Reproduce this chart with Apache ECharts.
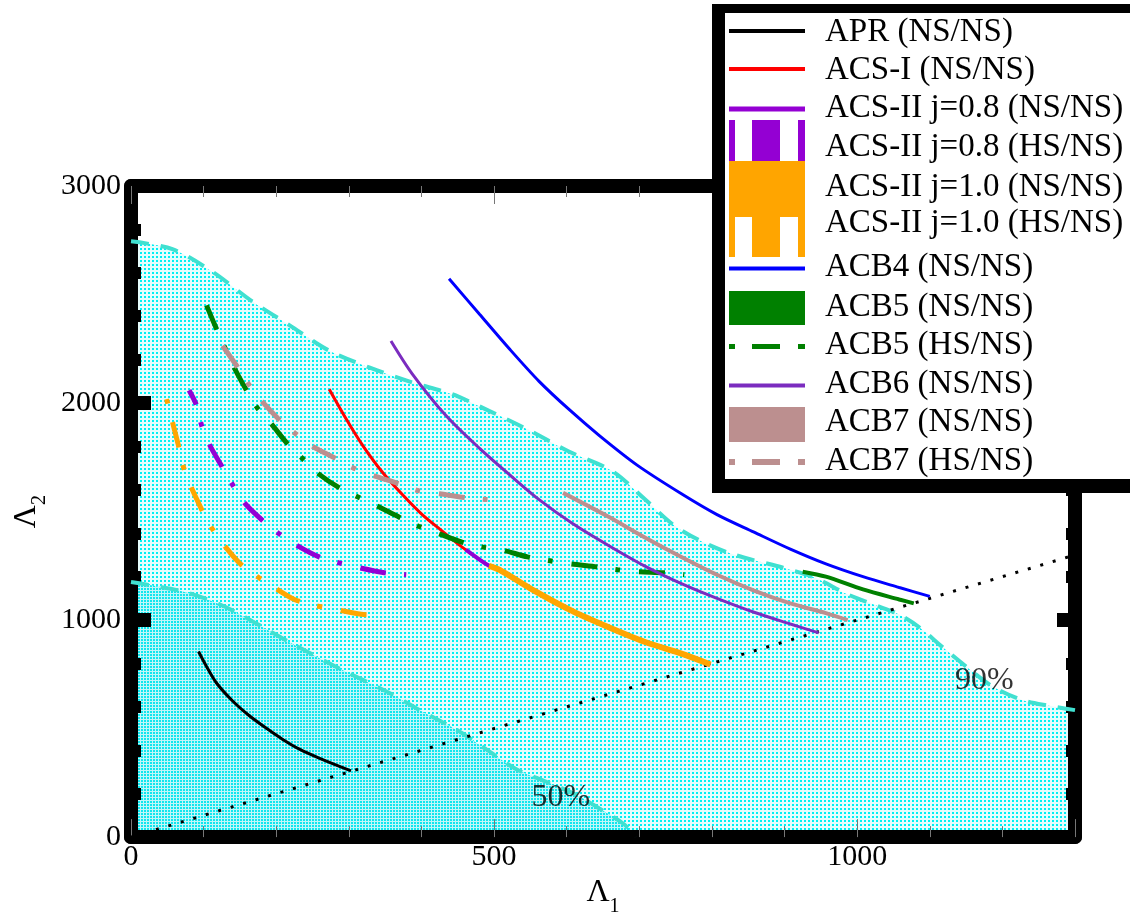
<!DOCTYPE html>
<html><head><meta charset="utf-8">
<script src="https://cdn.jsdelivr.net/npm/echarts@6/dist/echarts.min.js"></script>
<style>html,body{margin:0;padding:0;background:#fff}#c{width:1130px;height:922px}</style>
</head><body><div id="c"></div>
<script>
// ---------------- data ----------------
const xTickLabels = [0, 500, 1000];
const yTickLabels = [0, 1000, 2000, 3000];

const region90 = [[0,2745],[57,2709],[112,2605],[167,2468],[218,2359],[273,2241],[328,2164],[387,2095],[442,2041],[493,1964],[544,1882],[603,1777],[663,1686],[707,1559],[748,1436],[788,1359],[832,1300],[898,1241],[942,1195],[987,1118],[1033,1059],[1057,1027],[1085,968],[1117,877],[1150,786],[1186,695],[1227,632],[1264,605],[1300,585]];
const region50 = [[0,1175],[71,1132],[122,1073],[167,995],[222,891],[287,777],[356,664],[397,586],[448,495],[489,405],[530,314],[572,255],[613,195],[645,132],[679,59],[695,0]];
const equalLine = [[0,0],[1300,1300]];

const aprNS = [[93,855],[104,786],[118,709],[140,627],[163,559],[187,500],[209,450],[232,405],[259,364],[303,305]];
const acs1NS = [[273,2064],[297,1923],[319,1805],[346,1682],[374,1577],[401,1486],[429,1409],[456,1336],[493,1250],[507,1232],[557,1132],[608,1041],[657,968],[707,900],[758,845],[798,795]];
const acs2j08NS = [[461,1325],[493,1250],[507,1232],[557,1132],[608,1041],[657,968],[707,900],[758,845],[798,795]];
const acs2j08HS = [[80,2059],[90,1991],[97,1900],[108,1809],[125,1709],[140,1623],[156,1541],[181,1459],[203,1400],[228,1345],[259,1291],[286,1264],[314,1241],[349,1218],[379,1209]];
const acs2j10NS = [[493,1250],[507,1232],[557,1132],[608,1041],[657,968],[707,900],[758,845],[798,795]];
const acs2j10HS = [[49,2018],[56,1927],[65,1809],[71,1718],[81,1627],[96,1518],[108,1441],[125,1359],[149,1264],[170,1209],[195,1155],[225,1095],[252,1068],[280,1050],[317,1027],[346,1023]];
const acb4NS = [[438,2573],[480,2409],[521,2250],[562,2100],[604,1968],[645,1850],[697,1714],[758,1582],[807,1486],[858,1405],[908,1327],[957,1259],[1008,1200],[1058,1150],[1100,1109]];
const acb5NS = [[925,1223],[957,1200],[1008,1141],[1058,1095],[1078,1077]];
const acb5HS = [[104,2450],[119,2332],[142,2164],[159,2059],[174,1977],[193,1905],[215,1814],[236,1745],[257,1677],[287,1609],[312,1568],[338,1527],[370,1473],[396,1432],[422,1400],[456,1359],[485,1336],[511,1323],[546,1291],[577,1273],[605,1259],[642,1245],[670,1232],[697,1223],[734,1218],[762,1209]];
const acb6NS = [[358,2286],[387,2136],[434,1941],[480,1791],[525,1659],[562,1555],[608,1445],[657,1345],[707,1250],[758,1168],[807,1100],[858,1036],[908,982],[947,941]];
const acb7NS = [[595,1586],[657,1477],[707,1382],[758,1291],[807,1209],[858,1136],[908,1077],[957,1032],[987,1000]];
const acb7HS = [[126,2264],[149,2155],[164,2077],[181,2005],[207,1914],[228,1855],[250,1800],[284,1741],[310,1695],[335,1664],[370,1627],[397,1595],[425,1582],[462,1564],[491,1555]];

const regionLabels = ['90%', '50%'];
const regionLabelPos = [[1175,719],[592,183]];

// ---------------- styles ----------------
const FONT = '"Liberation Serif","Times New Roman",serif';
const DASHDOT = [26, 18, 5, 19];

function pattern(w, h, bg, fg, rects) {
  const c = document.createElement('canvas');
  c.width = w; c.height = h;
  const ctx = c.getContext('2d');
  ctx.fillStyle = bg; ctx.fillRect(0, 0, w, h);
  ctx.fillStyle = fg;
  rects.forEach(r => ctx.fillRect(r[0], r[1], r[2], r[3]));
  return c;
}
const pat90 = pattern(4, 4, '#e6fdfd', '#00f0f4', [[0,0,2,2]]);
const pat50 = pattern(3, 3, '#c0f6f8', '#10e6ee', [[0,0,2,2]]);

const curves = [
  {name:'APR (NS/NS)', data:aprNS, color:'#000000', width:3, type:'solid'},
  {name:'ACS-I (NS/NS)', data:acs1NS, color:'#ff0000', width:3, type:'solid'},
  {name:'ACS-II j=0.8 (NS/NS)', data:acs2j08NS, color:'#9400d3', width:4, type:'solid'},
  {name:'ACS-II j=0.8 (HS/NS)', data:acs2j08HS, color:'#9400d3', width:5, type:DASHDOT, offset:10},
  {name:'ACS-II j=1.0 (NS/NS)', data:acs2j10NS, color:'#ffa500', width:6, type:'solid'},
  {name:'ACS-II j=1.0 (HS/NS)', data:acs2j10HS, color:'#ffa500', width:5, type:DASHDOT, offset:44},
  {name:'ACB4 (NS/NS)', data:acb4NS, color:'#0000ff', width:3, type:'solid'},
  {name:'ACB5 (NS/NS)', data:acb5NS, color:'#008000', width:4, type:'solid'},
  {name:'ACB5 (HS/NS)', data:acb5HS, color:'#008000', width:5, type:DASHDOT, offset:0},
  {name:'ACB6 (NS/NS)', data:acb6NS, color:'#7b2cbf', width:3, type:'solid'},
  {name:'ACB7 (NS/NS)', data:acb7NS, color:'#bc8f8f', width:4, type:'solid'},
  {name:'ACB7 (HS/NS)', data:acb7HS, color:'#bc8f8f', width:5, type:DASHDOT, offset:0}
];

// legend icon layouts (frame 91 x 80), row centre y
function pathOf(rects) {
  let p = 'M0 0h0.01v0.01h-0.01Z M90.99 79.99h0.01v0.01h-0.01Z';
  rects.forEach(r => { p += ` M${r[0]} ${r[1]}h${r[2]}v${r[3]}h${-r[2]}Z`; });
  return 'path://' + p;
}
function dd(y, h) { return [[0,y,6,h],[23,y,28,h],[69,y,7,h]]; }
const legendRows = [
  {c:32,  rects:[[0,37,76,4]]},
  {c:70,  rects:[[0,37,76,4]]},
  {c:108, rects:[[0,38.5,76,5]]},
  {c:147, rects:dd(13,41)},
  {c:187, rects:[[0,14,76,56]]},
  {c:223, rects:dd(34,40)},
  {c:267, rects:[[0,39.5,76,4]]},
  {c:307, rects:[[0,24,76,34]]},
  {c:345, rects:dd(39,5)},
  {c:384, rects:[[0,39.5,76,4]]},
  {c:422, rects:[[0,25,76,35]]},
  {c:461, rects:dd(38,6)}
];

const legends = curves.map((s, i) => ({
  left: 729, top: legendRows[i].c - 40, orient: 'horizontal',
  itemWidth: 91, itemHeight: 80, padding: 0, itemGap: 0,
  selectedMode: false, z: 10, symbolKeepAspect: false,
  textStyle: {fontSize: 33, fontFamily: FONT, color: '#000'},
  data: [{name: s.name, icon: pathOf(legendRows[i].rects), itemStyle: {color: s.color, borderWidth: 0}}]
}));

const series = [
  {type:'line', name:'90%', data:region90, smooth:0.3, symbol:'none', silent:true,
   lineStyle:{color:'#40e0d0', width:4, type:[18,12]},
   areaStyle:{color:{image:pat90, repeat:'repeat'}, opacity:1}},
  {type:'line', name:'50%', data:region50, smooth:0.3, symbol:'none', silent:true,
   lineStyle:{color:'#40e0d0', width:4, type:[18,12]},
   areaStyle:{color:{image:pat50, repeat:'repeat'}, opacity:1}},
  {type:'line', name:'q=1', data:equalLine, symbol:'none', silent:true,
   lineStyle:{color:'#000', width:3, type:[3,10]}}
];
curves.forEach(s => series.push({
  type:'line', name:s.name, data:s.data, smooth:0.3, symbol:'none', showSymbol:false, silent:true,
  lineStyle:{color:s.color, width:s.width, type:s.type, dashOffset:s.offset || 0},
  itemStyle:{color:s.color}
}));
series.push({
  type:'scatter', name:'labels', silent:true, symbolSize:1, z:4,
  itemStyle:{color:'rgba(0,0,0,0)'},
  data: regionLabels.map((t, i) => ({name:t, value:regionLabelPos[i]})),
  label:{show:true, position:'inside', formatter:'{b}', fontSize:32, fontFamily:FONT, color:'#000'}
});

const thinTick = {inside:true, length:18, lineStyle:{color:'#777', width:1}};
const thinMinor = {show:true, splitNumber:5, length:11, lineStyle:{color:'#777', width:1}};
const thickTick = {inside:true, length:20, lineStyle:{color:'#000', width:14}};
const thickMinor = {show:true, splitNumber:5, length:10, lineStyle:{color:'#000', width:12}};
const frameLine = {show:true, onZero:false, lineStyle:{color:'#000', width:14}};

const option = {
  animation: false,
  backgroundColor: '#fff',
  grid: {left:131, right:55, top:186, bottom:76},
  xAxis: [
    {type:'value', position:'bottom', min:0, max:1300, interval:500, z:3,
     axisLine:frameLine, axisTick:thinTick, minorTick:thinMinor, splitLine:{show:false},
     axisLabel:{margin:5, fontSize:30, fontFamily:FONT, color:'#000', showMaxLabel:false,
       formatter: v => xTickLabels.indexOf(v) >= 0 ? String(v) : ''},
     name:'{a|Λ}{b|1}', nameLocation:'middle', nameGap:30,
     nameTextStyle:{color:'#000', fontFamily:FONT, rich:{a:{fontSize:32, fontFamily:FONT, color:'#000'}, b:{fontSize:20, fontFamily:FONT, color:'#000', padding:[28,0,0,0]}}}},
    {type:'value', position:'top', min:0, max:1300, interval:500, z:3,
     axisLine:frameLine, axisTick:thinTick, minorTick:thinMinor, splitLine:{show:false}, axisLabel:{show:false}}
  ],
  yAxis: [
    {type:'value', position:'left', min:0, max:3000, interval:1000, z:3,
     axisLine:frameLine, axisTick:thickTick, minorTick:thickMinor, splitLine:{show:false},
     axisLabel:{margin:10, fontSize:30, fontFamily:FONT, color:'#000',
       formatter: v => yTickLabels.indexOf(v) >= 0 ? String(v) : ''},
     name:'{a|Λ}{b|2}', nameLocation:'middle', nameGap:80, nameRotate:90,
     nameTextStyle:{color:'#000', fontFamily:FONT, rich:{a:{fontSize:32, fontFamily:FONT, color:'#000'}, b:{fontSize:20, fontFamily:FONT, color:'#000', padding:[28,0,0,0]}}}},
    {type:'value', position:'right', min:0, max:3000, interval:1000, z:3,
     axisLine:frameLine, axisTick:{inside:true, length:18, lineStyle:{color:'#000', width:14}},
     minorTick:{show:true, splitNumber:5, length:9, lineStyle:{color:'#000', width:12}},
     splitLine:{show:false}, axisLabel:{show:false}}
  ],
  legend: legends,
  graphic: {elements: [
    {type:'rect', z:5, silent:true, shape:{x:712, y:4, width:418, height:489}, style:{fill:'#fff'}},
    {type:'rect', z:6, silent:true, shape:{x:712, y:4, width:418, height:9}, style:{fill:'#000'}},
    {type:'rect', z:6, silent:true, shape:{x:712, y:4, width:13, height:489}, style:{fill:'#000'}},
    {type:'rect', z:6, silent:true, shape:{x:712, y:479, width:418, height:14}, style:{fill:'#000'}}
  ]},
  series: series
};

const chart = echarts.init(document.getElementById('c'), null, {renderer:'canvas'});
chart.setOption(option);
</script>
</body></html>
